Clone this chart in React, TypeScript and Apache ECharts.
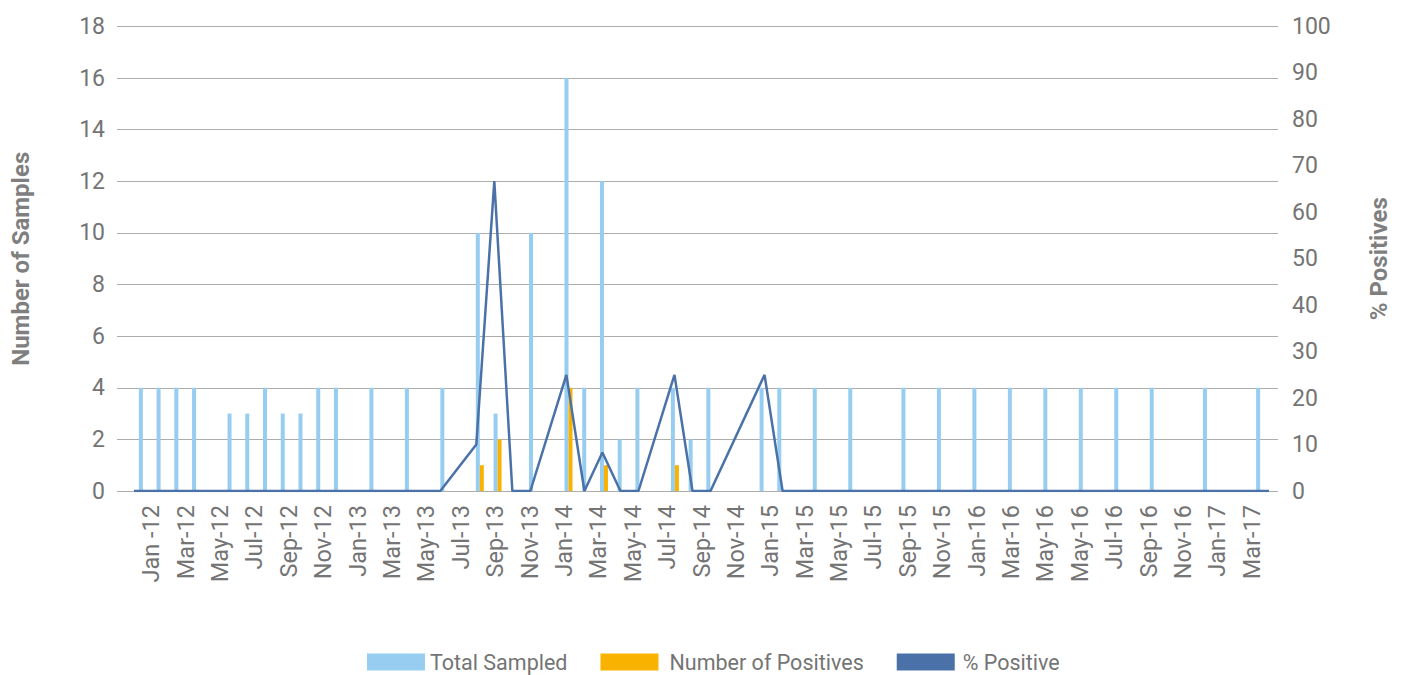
import React, { useEffect, useRef } from "react";
import * as echarts from "echarts";

// Monthly slots Jan-12 .. Apr-17 (64 months)
const months: string[] = [
  "Jan-12", "Feb-12", "Mar-12", "Apr-12", "May-12", "Jun-12", "Jul-12", "Aug-12", "Sep-12", "Oct-12", "Nov-12", "Dec-12",
  "Jan-13", "Feb-13", "Mar-13", "Apr-13", "May-13", "Jun-13", "Jul-13", "Aug-13", "Sep-13", "Oct-13", "Nov-13", "Dec-13",
  "Jan-14", "Feb-14", "Mar-14", "Apr-14", "May-14", "Jun-14", "Jul-14", "Aug-14", "Sep-14", "Oct-14", "Nov-14", "Dec-14",
  "Jan-15", "Feb-15", "Mar-15", "Apr-15", "May-15", "Jun-15", "Jul-15", "Aug-15", "Sep-15", "Oct-15", "Nov-15", "Dec-15",
  "Jan-16", "Feb-16", "Mar-16", "Apr-16", "May-16", "Jun-16", "Jul-16", "Aug-16", "Sep-16", "Oct-16", "Nov-16", "Dec-16",
  "Jan-17", "Feb-17", "Mar-17", "Apr-17",
];

// Total sampled per month (null = no sampling row)
const totalSampled: (number | null)[] = [
  4, 4, 4, 4, null, 3, 3, 4, 3, 3, 4, 4,
  null, 4, null, 4, null, 4, null, 10, 3, null, 10, null,
  16, 4, 12, 2, 4, null, 4, 2, 4, null, null, 4,
  4, null, 4, null, 4, null, null, 4, null, 4, null, 4,
  null, 4, null, 4, null, 4, null, 4, null, 4, null, null,
  4, null, null, 4,
];

// Number of positives per month
const positives: (number | null)[] = [
  0, 0, 0, 0, null, 0, 0, 0, 0, 0, 0, 0,
  null, 0, null, 0, null, 0, null, 1, 2, null, 0, null,
  4, 0, 1, 0, 0, null, 1, 0, 0, null, null, null,
  0, null, 0, null, 0, null, null, 0, null, 0, null, 0,
  null, 0, null, 0, null, 0, null, 0, null, 0, null, null,
  0, null, null, 0,
];

// % positive per sampling row (null = no row)
const pctPositive: (number | null)[] = [
  0, 0, 0, 0, null, 0, 0, 0, 0, 0, 0, 0,
  null, 0, null, 0, null, 0, null, 10, 66.7, 0, 0, null,
  25, 0, 8.3, 0, 0, null, 25, 0, 0, null, null, 25,
  0, null, 0, null, 0, null, null, 0, null, 0, null, 0,
  null, 0, null, 0, null, 0, null, 0, null, 0, null, null,
  0, null, null, 0,
];

// Axis tick labels as shown
const tickLabels: string[] = [
  "Jan -12", "Mar-12", "May-12", "Jul-12", "Sep-12", "Nov-12",
  "Jan-13", "Mar-13", "May-13", "Jul-13", "Sep-13", "Nov-13",
  "Jan-14", "Mar-14", "May-14", "Jul-14", "Sep-14", "Nov-14",
  "Jan-15", "Mar-15", "May-15", "Jul-15", "Sep-15", "Nov-15",
  "Jan-16", "Mar-16", "May-16", "May-16", "Jul-16", "Sep-16", "Nov-16",
  "Jan-17", "Mar-17",
];

const seriesNames = ["Total Sampled", "Number of Positives", "% Positive"];

const FONT = "Roboto";
const LABEL_COLOR = "#747474";
const TITLE_COLOR = "#7f7f7f";
const GRID_COLOR = "#adadad";

export default function App() {
  const ref = useRef<HTMLDivElement>(null);
  useEffect(() => {
    if (!ref.current) return;
    const chart = echarts.init(ref.current, undefined, { renderer: "svg" });
    const top = 26.5;
    const bottom = 184;
    chart.setOption({
      animation: false,
      textStyle: { fontFamily: FONT },
      grid: [
        { left: 117, right: 125, top, bottom },
        { left: 134, right: 134, top, bottom },
      ],
      legend: {
        data: [
          { name: seriesNames[0] },
          { name: seriesNames[1], textStyle: { padding: [0, 0, 0, 6] } },
          { name: seriesNames[2], textStyle: { padding: [0, 0, 0, 3] } },
        ],
        icon: "rect",
        itemWidth: 58,
        itemHeight: 17,
        itemGap: 33,
        left: 362,
        top: 646,
        textStyle: { fontSize: 21.5, color: LABEL_COLOR, fontFamily: FONT },
      },
      xAxis: [
        { type: "category", gridIndex: 0, show: false, data: ["a"] },
        {
          type: "category",
          gridIndex: 1,
          position: "bottom",
          data: tickLabels,
          boundaryGap: true,
          axisLine: { show: false },
          axisTick: { show: false },
          axisLabel: {
            rotate: 90,
            interval: 0,
            fontSize: 23.5,
            color: LABEL_COLOR,
            margin: 14,
            fontFamily: FONT,
          },
        },
        { type: "category", gridIndex: 1, position: "bottom", show: false, data: months, boundaryGap: true },
        { type: "category", gridIndex: 1, position: "bottom", show: false, data: months, boundaryGap: false },
      ],
      yAxis: [
        {
          type: "value",
          gridIndex: 0,
          position: "left",
          min: 0,
          max: 18,
          interval: 2,
          axisLine: { show: false },
          axisTick: { show: false },
          splitLine: { show: true, lineStyle: { color: GRID_COLOR, width: 1 } },
          axisLabel: { fontSize: 23, color: LABEL_COLOR, margin: 12, fontFamily: FONT },
          name: "Number of Samples",
          nameLocation: "middle",
          nameRotate: 90,
          nameGap: 84,
          nameTextStyle: { fontSize: 24, fontWeight: "bold", color: TITLE_COLOR, fontFamily: FONT },
        },
        {
          type: "value",
          gridIndex: 0,
          position: "right",
          min: 0,
          max: 100,
          interval: 10,
          axisLine: { show: false },
          axisTick: { show: false },
          splitLine: { show: false },
          axisLabel: { fontSize: 23, color: LABEL_COLOR, margin: 14, fontFamily: FONT },
          name: "% Positives",
          nameLocation: "middle",
          nameRotate: 90,
          nameGap: 89,
          nameTextStyle: { fontSize: 24, fontWeight: "bold", color: TITLE_COLOR, fontFamily: FONT },
        },
        { type: "value", gridIndex: 1, position: "left", show: false, min: 0, max: 18, splitLine: { show: false } },
        { type: "value", gridIndex: 1, position: "right", show: false, min: 0, max: 100, splitLine: { show: false } },
      ],
      series: [
        {
          name: seriesNames[0],
          type: "bar",
          xAxisIndex: 2,
          yAxisIndex: 2,
          data: totalSampled,
          barWidth: 4,
          barGap: "0%",
          color: "#97CDF0",
        },
        {
          name: seriesNames[1],
          type: "bar",
          xAxisIndex: 2,
          yAxisIndex: 2,
          data: positives,
          barWidth: 4,
          barGap: "0%",
          color: "#F9B200",
        },
        {
          name: seriesNames[2],
          type: "line",
          xAxisIndex: 3,
          yAxisIndex: 3,
          data: pctPositive,
          connectNulls: true,
          showSymbol: false,
          symbol: "none",
          color: "#4A71A8",
          lineStyle: { width: 2.5, color: "#4A71A8" },
        },
      ],
    });
    return () => chart.dispose();
  }, []);
  return (
    <div
      ref={ref}
      style={{ position: "absolute", left: 0, top: 0, width: 1403, height: 675 }}
    />
  );
}
